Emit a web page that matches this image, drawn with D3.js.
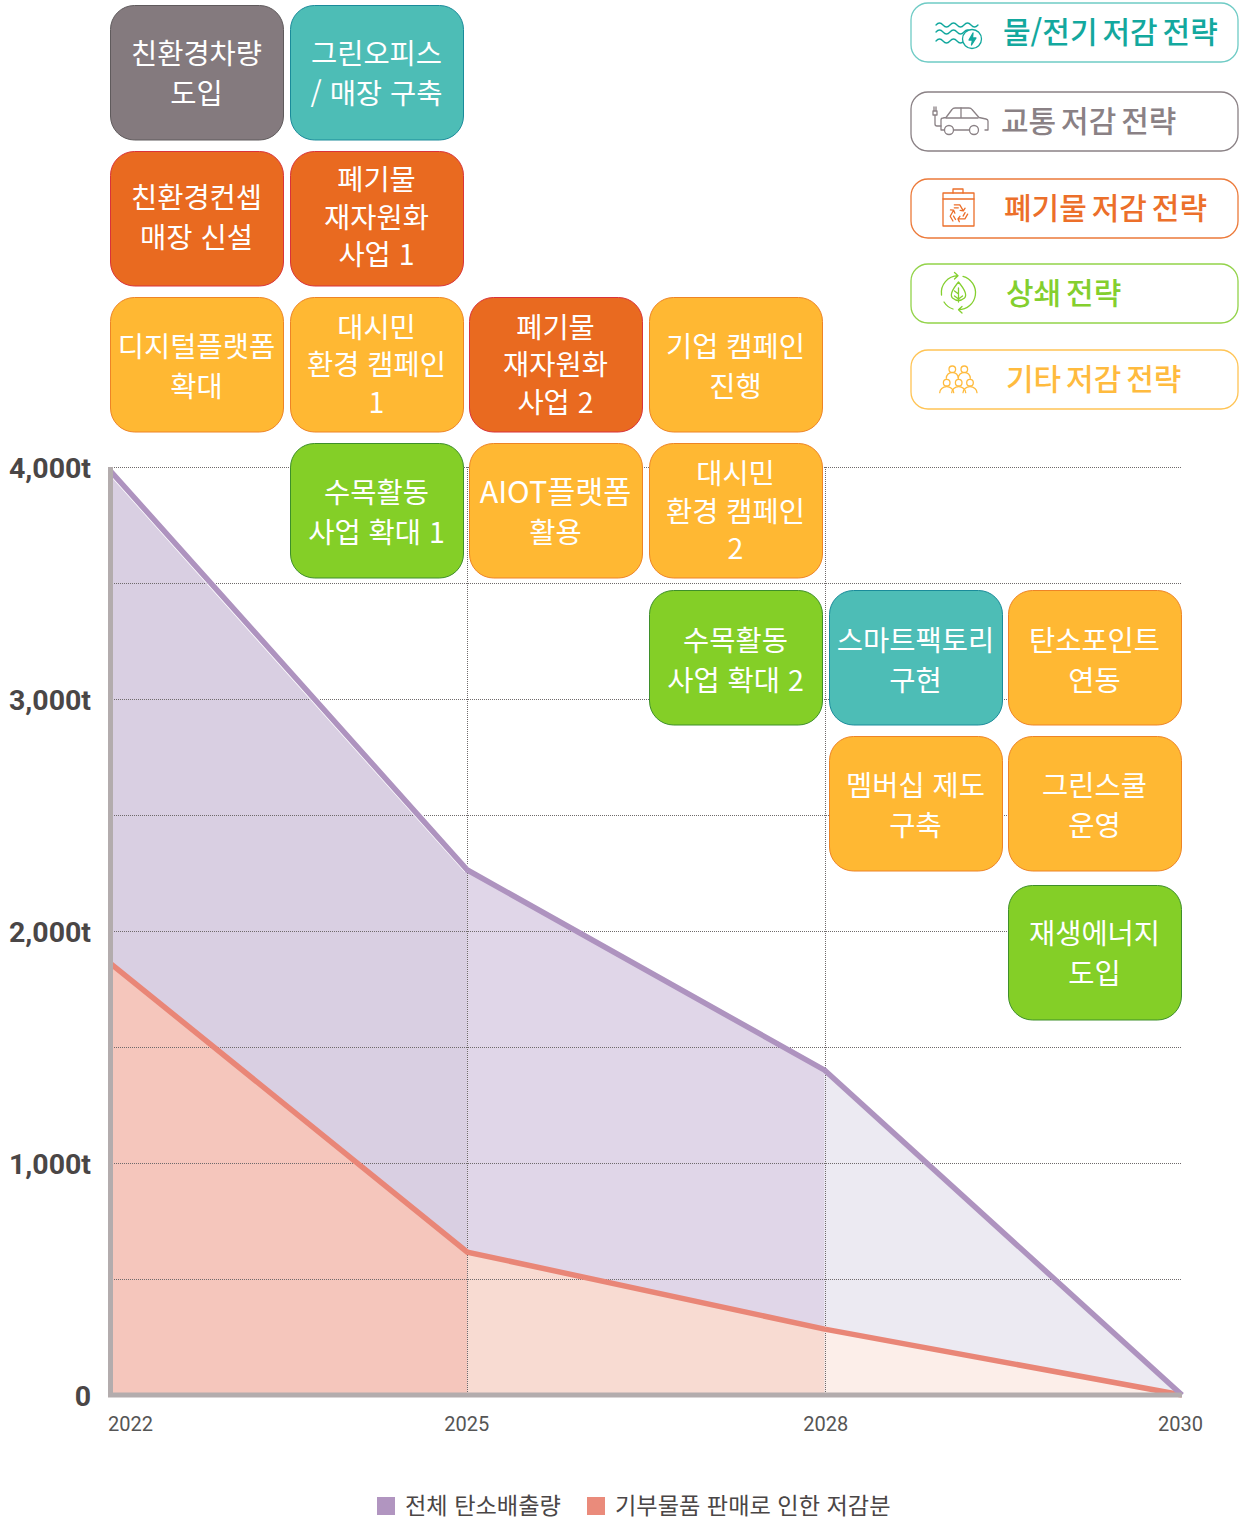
<!DOCTYPE html>
<html lang="ko">
<head>
<meta charset="utf-8">
<script src="https://cdnjs.cloudflare.com/ajax/libs/d3/7.8.5/d3.min.js"></script>
<style>
html, body { margin: 0; padding: 0; background: #fff; }
svg { display: block; }
text { font-family: "Noto Sans CJK KR", "Noto Sans", sans-serif; }
.num { font-family: Roboto, sans-serif; }
</style>
</head>
<body>
<div id="chart"></div>
<script>
//chart data
var years = ["2022", "2025", "2028", "2030"];
var totalValues = [3985, 2263, 1400, 0];
var reductionValues = [1862, 616, 284, 0];
var gridValues = [0, 500, 1000, 1500, 2000, 2500, 3000, 3500, 4000];
var labelValues = [0, 1000, 2000, 3000, 4000];
var legendLabels = ["전체 탄소배출량", "기부물품 판매로 인한 저감분"];

//strategy boxes
var boxLabels = ["친환경차량\n도입", "그린오피스\n/ 매장 구축",
                 "친환경컨셉\n매장 신설", "폐기물\n재자원화\n사업 1",
                 "디지털플랫폼\n확대", "대시민\n환경 캠페인\n1", "폐기물\n재자원화\n사업 2", "기업 캠페인\n진행",
                 "수목활동\n사업 확대 1", "AIOT플랫폼\n활용", "대시민\n환경 캠페인\n2",
                 "수목활동\n사업 확대 2", "스마트팩토리\n구현", "탄소포인트\n연동",
                 "멤버십 제도\n구축", "그린스쿨\n운영",
                 "재생에너지\n도입"];
var boxColumns = [0, 1,  0, 1,  0, 1, 2, 3,  1, 2, 3,  3, 4, 5,  4, 5,  5];
var boxRows =    [0, 0,  1, 1,  2, 2, 2, 2,  3, 3, 3,  4, 4, 4,  5, 5,  6];
var boxKinds =   ["car", "water", "waste", "waste", "etc", "etc", "waste", "etc", "green", "etc", "etc", "green", "water", "etc", "etc", "etc", "green"];

//strategy legend
var strategyKinds = ["water", "car", "waste", "green", "etc"];
var strategyLabels = ["물/전기 저감 전략", "교통 저감 전략", "폐기물 저감 전략", "상쇄 전략", "기타 저감 전략"];

//color
var boxFill = {car: "#847a7e", water: "#4dbdb6", waste: "#e96a20", green: "#84cf27", etc: "#ffb833"};
var boxStroke = {car: "#5f5a5c", water: "#1a8b9a", waste: "#d9333a", green: "#3e8f2a", etc: "#ee8426"};
var strategyText = {car: "#8a8185", water: "#13a89e", waste: "#ec6f2a", green: "#84cf2e", etc: "#ffbb3e"};
var strategyBorder = {car: "#8a8185", water: "#6fcbc5", waste: "#ec7a3a", green: "#93d34a", etc: "#ffc455"};
var totalFills = ["#d9cfe2", "#e0d6e8", "#eceaf2"];
var reductionFills = ["#f5c6bc", "#f8dbd2", "#fceee9"];
var totalColor = "#ae93bf";
var reductionColor = "#e98677";
var axisColor = "#b3acad";

var width = 1246,
    height = 1521;

var svg = d3.select("#chart")
    .append("svg")
    .attr("width", width)
    .attr("height", height);

var x = d3.scalePoint().domain(years).range([110, 1182]);
var y = d3.scaleLinear().domain([0, 4000]).range([1395, 467]);

var rows = d3.range(7);
var columns = d3.range(6);
var rowScale = d3.scaleOrdinal().domain(rows).range([5, 151, 297, 443, 590, 736, 885]);
var colScale = d3.scaleOrdinal().domain(columns).range([110, 290, 469, 649, 829, 1008]);

//text nudges per row, the boxes are not centered the same way everywhere
var twoLineShift = [1.5, -0.5, 2.5, 2, 3.5, 2.5, 1.5];
var threeLineShift = [0, -1, 0.5, 1];

drawAreas();
drawGrid();
drawLines();
drawAxes();
drawBoxes();
drawStrategies();
drawLegend();

//one lighter fill per interval between years
function drawAreas(){
    var area = d3.area()
        .x(function(d){ return x(d.year); })
        .y0(y(0))
        .y1(function(d){ return y(d.value); });

    [[totalValues, totalFills], [reductionValues, reductionFills]].forEach(function(set){
        var points = years.map(function(year, i){ return {year: year, value: set[0][i]}; });
        d3.range(years.length - 1).forEach(function(i){
            svg.append("path")
                .attr("d", area(points.slice(i, i + 2)))
                .attr("fill", set[1][i]);
        });
    });
}

function drawGrid(){
    var grid = svg.append("g");

    grid.selectAll("line.h")
        .data(gridValues.slice(1))
        .enter()
        .append("line")
        .attr("class", "h")
        .attr("x1", x("2022"))
        .attr("x2", x("2030"))
        .attr("y1", function(d){ return Math.round(y(d)) + 0.5; })
        .attr("y2", function(d){ return Math.round(y(d)) + 0.5; });

    grid.selectAll("line.v")
        .data(["2025", "2028"])
        .enter()
        .append("line")
        .attr("class", "v")
        .attr("x1", function(d){ return Math.round(x(d)) + 0.5; })
        .attr("x2", function(d){ return Math.round(x(d)) + 0.5; })
        .attr("y1", y(4000))
        .attr("y2", y(0));

    grid.selectAll("line")
        .attr("stroke", "#6f6a6b")
        .attr("stroke-width", 1)
        .attr("stroke-dasharray", "1,1");
}

function drawLines(){
    var line = d3.line()
        .x(function(d, i){ return x(years[i]); })
        .y(function(d){ return y(d); });

    svg.append("path")
        .attr("d", line(reductionValues))
        .attr("fill", "none")
        .attr("stroke", reductionColor)
        .attr("stroke-width", 5.5);

    //thin white edge under the first purple segment
    svg.append("path")
        .attr("d", line(totalValues.slice(0, 2)))
        .attr("fill", "none")
        .attr("stroke", "#fff")
        .attr("stroke-width", 7);

    svg.append("path")
        .attr("d", line(totalValues))
        .attr("fill", "none")
        .attr("stroke", totalColor)
        .attr("stroke-width", 5.5);
}

function drawAxes(){
    //gray frame on the left and bottom
    svg.append("path")
        .attr("d", "M" + (x("2022") + 0.5) + "," + y(4000) + "V" + y(0) + "H" + x("2030"))
        .attr("fill", "none")
        .attr("stroke", axisColor)
        .attr("stroke-width", 5);

    var yAxis = svg.append("g")
        .attr("transform", "translate(91,1.5)")
        .call(d3.axisLeft(y)
            .tickValues(labelValues)
            .tickSize(0)
            .tickPadding(0)
            .tickFormat(function(d){ return d === 0 ? "0" : d3.format(",")(d) + "t"; }));
    yAxis.select(".domain").remove();
    yAxis.selectAll("text")
        .attr("class", "num")
        .attr("font-size", 28.5)
        .attr("font-weight", 700)
        .attr("fill", "#4a4646");

    var xAxis = svg.append("g")
        .attr("transform", "translate(0,1417)")
        .call(d3.axisBottom(x).tickSize(0).tickPadding(0));
    xAxis.select(".domain").remove();
    xAxis.selectAll("text")
        .attr("class", "num")
        .attr("font-size", 20)
        .attr("fill", "#555")
        .attr("text-anchor", function(d){ return d === "2022" ? "start" : "middle"; })
        .attr("dx", function(d){ return d === "2022" ? -2.5 : d === "2025" ? -1 : d === "2028" ? 0.5 : -2; });
}

function drawBoxes(){
    var boxW = 173, boxH = 134.5;

    var boxes = svg.selectAll(".box")
        .data(boxLabels)
        .enter()
        .append("g")
        .attr("class", "box")
        .attr("transform", function(d, i){
            return "translate(" + colScale(boxColumns[i]) + "," + rowScale(boxRows[i]) + ")";
        });

    boxes.append("rect")
        .attr("x", 0.5)
        .attr("y", 0.5)
        .attr("width", boxW)
        .attr("height", boxH)
        .attr("rx", 24)
        .attr("fill", function(d, i){ return boxFill[boxKinds[i]]; })
        .attr("stroke", function(d, i){ return boxStroke[boxKinds[i]]; });

    boxes.each(function(d, n){
        var lines = d.split("\n");
        var lineGap = lines.length === 3 ? 37.5 : 40;
        var shift = (lines.length === 3 ? threeLineShift : twoLineShift)[boxRows[n]];
        d3.select(this).selectAll("text")
            .data(lines)
            .enter()
            .append("text")
            .attr("x", boxW / 2)
            .attr("y", function(t, i){ return boxH / 2 + shift + (i - (lines.length - 1) / 2) * lineGap; })
            .attr("dy", "0.36em")
            .attr("text-anchor", "middle")
            .attr("font-size", function(t){ return t.indexOf("AIOT") === 0 ? 30.5 : 28.5; })
            .attr("fill", "#fff")
            .text(function(t){ return t; });
    });
}

function drawStrategies(){
    var tops = [3, 92, 179, 264, 350];
    var textX = [92, 90, 93, 95, 95];

    var items = svg.selectAll(".strategy")
        .data(strategyKinds)
        .enter()
        .append("g")
        .attr("class", "strategy")
        .attr("transform", function(d, i){ return "translate(911," + tops[i] + ")"; });

    items.append("rect")
        .attr("x", 0)
        .attr("y", 0)
        .attr("width", 327)
        .attr("height", 59)
        .attr("rx", 17)
        .attr("fill", "#fff")
        .attr("stroke", function(d){ return strategyBorder[d]; })
        .attr("stroke-width", 1.3);

    items.append("text")
        .attr("x", function(d, i){ return textX[i]; })
        .attr("y", 29)
        .attr("dy", "0.36em")
        .attr("font-size", 30)
        .attr("font-weight", 500)
        .attr("word-spacing", -3.5)
        .attr("fill", function(d){ return strategyText[d]; })
        .text(function(d, i){ return strategyLabels[i]; });

    items.each(function(d){
        drawIcon(d3.select(this).append("g")
            .attr("fill", "none")
            .attr("stroke", strategyText[d])
            .attr("stroke-width", 1.3)
            .attr("stroke-linejoin", "round")
            .attr("stroke-linecap", "round"), d);
    });
}

//small outline icons, each drawn from the button's top left corner
function drawIcon(g, kind){
    if (kind === "water") {
        [22, 29, 38].forEach(function(top, i){
            var wave = "M25," + top;
            var n = i === 2 ? 2 : 3;
            for (var k = 0; k < n; k++) {
                wave += "q3.5,-4 7,0t7,0";
            }
            g.append("path").attr("d", wave);
        });
        g.append("circle").attr("cx", 61).attr("cy", 36).attr("r", 9.5).attr("fill", "#fff");
        g.append("path").attr("d", "M62,30l-4,7h3.5l-1,5l4.5,-7h-3.5z").attr("fill", strategyText.water);
    } else if (kind === "car") {
        g.append("path").attr("d", "M22,19v4h4v-4zM23,19v-4M25,19v-4M24,23v9q0,2 2,2h4");
        g.append("path").attr("d", "M33.5,38h-3.5v-10q0,-2 2,-2l3,-.5l6,-8q1,-1.5 3,-1.5h14q2,0 3,1.5l7,8l7,1.5q2,.5 2,2v9h-3M42.5,38h16");
        g.append("path").attr("d", "M35,26h32M50,16v10");
        g.append("circle").attr("cx", 38).attr("cy", 38).attr("r", 4.5);
        g.append("circle").attr("cx", 63).attr("cy", 38).attr("r", 4.5);
    } else if (kind === "waste") {
        g.append("rect").attr("x", 32).attr("y", 14).attr("width", 31).attr("height", 33);
        g.append("path").attr("d", "M42,14v-4h10v4M32,20h31");
        [0, 120, 240].forEach(function(angle){
            g.append("path")
                .attr("transform", "translate(47.3,34.3) rotate(" + angle + ")")
                .attr("d", "M-4,-8.5L1.5,-8.5L5,-2.5M5,-2.5l1.8,-2.6M5,-2.5l-3.2,-.4M-4,-5.5L0,-5.5");
        });
    } else if (kind === "green") {
        g.append("path").attr("d", "M30.5,31A17,17 0 0 1 47,11.7M43.5,8.5L47,11.7L43.5,15");
        g.append("path").attr("d", "M52,12.3A17,17 0 0 1 47.5,45.7M51,42.5L47.5,45.7L51,49");
        g.append("path").attr("d", "M33,38A17,17 0 0 0 42,45");
        g.append("path").attr("d", "M47.5,18q-10,12 -6,16q6,5 12,0q4,-4 -6,-16zM47.5,24v14M47.5,30l-4,-3M47.5,35l4,-3M47.5,35l-4,-3");
    } else {
        //back row, then front row
        [[41.3, 19.3], [53.3, 19.3]].forEach(function(h){
            g.append("circle").attr("cx", h[0]).attr("cy", h[1]).attr("r", 3.3);
            g.append("path").attr("d", "M" + (h[0] - 6) + "," + (h[1] + 9) + "a6,6 0 0 1 12,0");
        });
        [[35.7, 32.7], [47.7, 32.7], [59, 32.7]].forEach(function(h){
            g.append("circle").attr("cx", h[0]).attr("cy", h[1]).attr("r", 3.3);
            g.append("path").attr("d", "M" + (h[0] - 7) + "," + (h[1] + 10) + "a7,6 0 0 1 14,0");
        });
    }
}

function drawLegend(){
    var squareX = [377, 587];

    var items = svg.selectAll(".legend")
        .data(legendLabels)
        .enter()
        .append("g")
        .attr("class", "legend")
        .attr("transform", function(d, i){ return "translate(" + squareX[i] + ",1497)"; });

    items.append("rect")
        .attr("width", 18)
        .attr("height", 18)
        .attr("fill", function(d, i){ return i === 0 ? "#b195c0" : "#ea8b7b"; });

    items.append("text")
        .attr("x", 28)
        .attr("y", 9)
        .attr("dy", "0.36em")
        .attr("font-size", 23.2)
        .attr("fill", "#4a4646")
        .text(function(d){ return d; });
}
</script>
</body>
</html>
